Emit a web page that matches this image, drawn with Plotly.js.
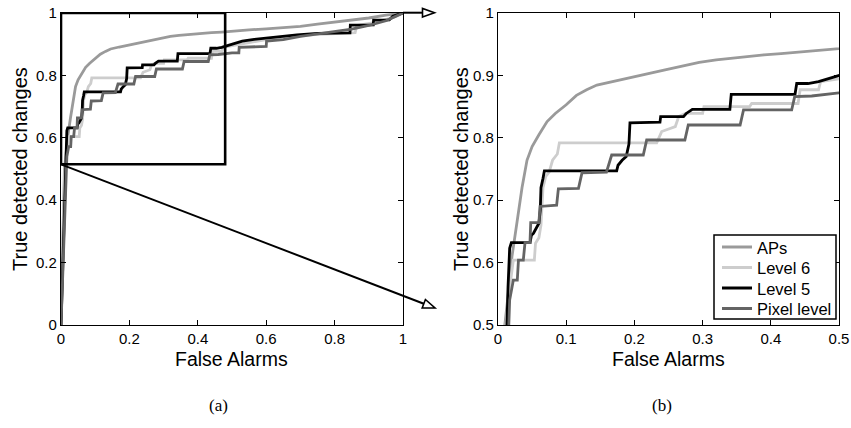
<!DOCTYPE html>
<html>
<head>
<meta charset="utf-8">
<script src="https://cdn.plot.ly/plotly-3.0.1.min.js"></script>
<style>html,body{margin:0;padding:0;background:#fff;}#chart{width:851px;height:428px;}</style>
</head>
<body>
<div id="chart"></div>
<script>
// ---- data (False Alarms vs True detected changes) ----
const seriesNames = ["APs", "Level 6", "Level 5", "Pixel level"];

const apsX = [0, 0.010, 0.015, 0.0205, 0.0279, 0.0352, 0.0425, 0.050, 0.060, 0.072, 0.084, 0.100, 0.115, 0.130, 0.145, 0.170, 0.195, 0.220, 0.245, 0.270, 0.295, 0.320, 0.345, 0.370, 0.390, 0.415, 0.440, 0.470, 0.500, 0.550, 0.600, 0.650, 0.700, 0.750, 0.800, 0.850, 0.900, 0.950, 1.000];
const apsY = [0, 0.500, 0.550, 0.610, 0.665, 0.720, 0.764, 0.786, 0.805, 0.826, 0.839, 0.853, 0.868, 0.877, 0.8846, 0.891, 0.897, 0.903, 0.909, 0.915, 0.921, 0.925, 0.928, 0.931, 0.933, 0.935, 0.937, 0.939, 0.942, 0.946, 0.949, 0.953, 0.957, 0.964, 0.970, 0.976, 0.984, 0.993, 1.000];

const level6X = [0, 0.0117, 0.016, 0.020, 0.0225, 0.0533, 0.055, 0.060, 0.063, 0.066, 0.070, 0.075, 0.080, 0.087, 0.090, 0.2327, 0.235, 0.240, 0.260, 0.265, 0.275, 0.300, 0.302, 0.369, 0.372, 0.440, 0.443, 0.470, 0.473, 0.500, 0.550, 0.600, 0.700, 0.800, 0.860, 0.865, 0.920, 0.970, 1.000];
const level6Y = [0, 0.503, 0.550, 0.585, 0.604, 0.604, 0.631, 0.640, 0.660, 0.720, 0.738, 0.745, 0.764, 0.774, 0.792, 0.792, 0.797, 0.810, 0.818, 0.834, 0.839, 0.839, 0.850, 0.850, 0.855, 0.855, 0.877, 0.877, 0.890, 0.895, 0.905, 0.915, 0.928, 0.935, 0.937, 0.960, 0.970, 0.985, 1.000];

const level5X = [0, 0.0127, 0.0147, 0.0171, 0.0196, 0.047, 0.049, 0.052, 0.056, 0.060, 0.062, 0.063, 0.066, 0.068, 0.174, 0.176, 0.182, 0.188, 0.192, 0.1935, 0.2375, 0.2385, 0.272, 0.276, 0.285, 0.340, 0.342, 0.4355, 0.438, 0.4545, 0.470, 0.480, 0.490, 0.500, 0.510, 0.530, 0.560, 0.600, 0.640, 0.690, 0.750, 0.845, 0.846, 0.913, 0.914, 0.960, 0.970, 1.000];
const level5Y = [0, 0.503, 0.561, 0.623, 0.632, 0.632, 0.644, 0.647, 0.655, 0.663, 0.684, 0.720, 0.735, 0.747, 0.747, 0.756, 0.764, 0.770, 0.790, 0.824, 0.825, 0.834, 0.834, 0.839, 0.8456, 0.8456, 0.8697, 0.8697, 0.887, 0.887, 0.890, 0.893, 0.896, 0.899, 0.903, 0.910, 0.915, 0.920, 0.925, 0.930, 0.935, 0.936, 0.961, 0.962, 0.977, 0.978, 0.990, 1.000];

const pixelX = [0, 0.015, 0.0171, 0.0225, 0.0283, 0.030, 0.0371, 0.0396, 0.0469, 0.048, 0.060, 0.0616, 0.086, 0.0885, 0.118, 0.1232, 0.159, 0.1667, 0.213, 0.218, 0.274, 0.279, 0.355, 0.360, 0.4306, 0.435, 0.460, 0.500, 0.520, 0.521, 0.600, 0.601, 0.650, 0.700, 0.750, 0.800, 0.850, 0.900, 0.950, 0.980, 1.000];
const pixelY = [0, 0.500, 0.540, 0.572, 0.572, 0.604, 0.604, 0.632, 0.632, 0.664, 0.664, 0.690, 0.692, 0.718, 0.719, 0.744, 0.745, 0.7724, 0.7724, 0.7965, 0.7965, 0.8205, 0.8205, 0.8446, 0.8446, 0.866, 0.867, 0.872, 0.872, 0.890, 0.893, 0.910, 0.915, 0.925, 0.932, 0.940, 0.948, 0.960, 0.975, 0.990, 1.000];

const leftXTicks = [0, 0.2, 0.4, 0.6, 0.8, 1];
const leftYTicks = [0, 0.2, 0.4, 0.6, 0.8, 1];
const rightXTicks = [0, 0.1, 0.2, 0.3, 0.4, 0.5];
const rightYTicks = [0.5, 0.6, 0.7, 0.8, 0.9, 1];
const zoomBox = {x0: 0, x1: 0.48, y0: 0.515, y1: 1};

// ---- styling ----
const W = 851, H = 428;
const px = v => v / W;
const py = v => 1 - v / H;
const colors = ["#9a9a9a", "#cdcdcd", "#000000", "#646464"];
const xs = [apsX, level6X, level5X, pixelX];
const ys = [apsY, level6Y, level5Y, pixelY];
const FONT = "Liberation Sans, Arial, sans-serif";
const LW = 2.8;

const traces = [];
for (let i = 0; i < 4; i++) {
  traces.push({x: xs[i], y: ys[i], xaxis: "x", yaxis: "y", type: "scatter", mode: "lines",
    line: {color: colors[i], width: LW}, showlegend: false, name: seriesNames[i], hoverinfo: "skip"});
}
for (let i = 0; i < 4; i++) {
  traces.push({x: xs[i], y: ys[i], xaxis: "x2", yaxis: "y2", type: "scatter", mode: "lines",
    line: {color: colors[i], width: LW}, showlegend: false, name: seriesNames[i], hoverinfo: "skip"});
}

const axisBase = {
  showline: true, linecolor: "#000", linewidth: 1.2, mirror: "ticks",
  ticks: "inside", ticklen: 5, tickwidth: 1, tickcolor: "#000",
  showgrid: false, zeroline: false, tickfont: {family: FONT, size: 15, color: "#000"},
  fixedrange: true
};

const xd1 = [px(61), px(403)], xd2 = [px(498), px(839)], yd = [py(325), py(13)];

// arrow geometry (pixels)
const tip1 = [434.5, 12.7], tip2 = [435, 308];
const start2 = [61, 325 - 0.515 * 312];
function arrowHead(tip, from, len, half) {
  const dx = tip[0] - from[0], dy = tip[1] - from[1];
  const L = Math.hypot(dx, dy), ux = dx / L, uy = dy / L;
  const bx = tip[0] - len * ux, by = tip[1] - len * uy;
  const p1 = [bx - half * uy, by + half * ux], p2 = [bx + half * uy, by - half * ux];
  return {base: [bx, by], path: `M${px(p1[0])},${py(p1[1])} L${px(tip[0])},${py(tip[1])} L${px(p2[0])},${py(p2[1])} Z`};
}
const head1 = arrowHead(tip1, [403, 12.7], 12, 4.3);
const head2 = arrowHead(tip2, start2, 12, 4.5);

const shapes = [
  {type: "rect", xref: "x", yref: "y", x0: zoomBox.x0, x1: zoomBox.x1, y0: zoomBox.y0, y1: zoomBox.y1,
   line: {color: "#000", width: 2.6}, fillcolor: "rgba(0,0,0,0)"},
  {type: "line", xref: "paper", yref: "paper", x0: px(403), y0: py(12.7), x1: px(head1.base[0]), y1: py(head1.base[1]),
   line: {color: "#000", width: 2}},
  {type: "path", xref: "paper", yref: "paper", path: head1.path, line: {color: "#000", width: 1.6}, fillcolor: "#fff"},
  {type: "line", xref: "paper", yref: "paper", x0: px(start2[0]), y0: py(start2[1]), x1: px(head2.base[0]), y1: py(head2.base[1]),
   line: {color: "#000", width: 2}},
  {type: "path", xref: "paper", yref: "paper", path: head2.path, line: {color: "#000", width: 1.6}, fillcolor: "#fff"}
];

const annotations = [
  {text: "True detected changes", xref: "paper", yref: "paper", x: px(20), y: py(169), textangle: -90,
   showarrow: false, xanchor: "center", yanchor: "middle", font: {family: FONT, size: 20, color: "#000"}},
  {text: "True detected changes", xref: "paper", yref: "paper", x: px(461), y: py(169), textangle: -90,
   showarrow: false, xanchor: "center", yanchor: "middle", font: {family: FONT, size: 20, color: "#000"}},
  {text: "False Alarms", xref: "paper", yref: "paper", x: px(232), y: py(358.5),
   showarrow: false, xanchor: "center", yanchor: "middle", font: {family: FONT, size: 19.5, color: "#000"}},
  {text: "False Alarms", xref: "paper", yref: "paper", x: px(668), y: py(358.5),
   showarrow: false, xanchor: "center", yanchor: "middle", font: {family: FONT, size: 19.5, color: "#000"}},
  {text: "(a)", xref: "paper", yref: "paper", x: px(218), y: py(405),
   showarrow: false, xanchor: "center", yanchor: "middle", font: {family: "Liberation Serif, Times New Roman, serif", size: 17, color: "#000"}},
  {text: "(b)", xref: "paper", yref: "paper", x: px(662), y: py(405),
   showarrow: false, xanchor: "center", yanchor: "middle", font: {family: "Liberation Serif, Times New Roman, serif", size: 17, color: "#000"}}
];

// ---- legend box drawn inside the right panel ----
const legBox = {left: 714, right: 836, top: 235, bottom: 319};
const legRowY = [247, 267.5, 288, 308.5];
shapes.push({type: "rect", xref: "paper", yref: "paper", x0: px(legBox.left), x1: px(legBox.right),
  y0: py(legBox.bottom), y1: py(legBox.top), line: {color: "#000", width: 1.5}, fillcolor: "#fff", layer: "above"});
for (let i = 0; i < seriesNames.length; i++) {
  shapes.push({type: "line", xref: "paper", yref: "paper", x0: px(722), x1: px(752), y0: py(legRowY[i]), y1: py(legRowY[i]),
    line: {color: colors[i], width: 3}});
  annotations.push({text: seriesNames[i], xref: "paper", yref: "paper", x: px(755), y: py(legRowY[i] + 0.5),
    showarrow: false, xanchor: "left", yanchor: "middle", font: {family: FONT, size: 16.5, color: "#000"}});
}

const layout = {
  width: W, height: H,
  margin: {l: 0, r: 0, t: 0, b: 0, pad: 0},
  paper_bgcolor: "#fff", plot_bgcolor: "#fff",
  font: {family: FONT, color: "#000"},
  xaxis: Object.assign({}, axisBase, {domain: xd1, range: [0, 1], tickvals: leftXTicks, ticktext: leftXTicks.map(String), anchor: "y"}),
  yaxis: Object.assign({}, axisBase, {domain: yd, range: [0, 1], tickvals: leftYTicks, ticktext: leftYTicks.map(String), anchor: "x"}),
  xaxis2: Object.assign({}, axisBase, {domain: xd2, range: [0, 0.5], tickvals: rightXTicks, ticktext: rightXTicks.map(String), anchor: "y2"}),
  yaxis2: Object.assign({}, axisBase, {domain: yd, range: [0.5, 1], tickvals: rightYTicks, ticktext: rightYTicks.map(String), anchor: "x2"}),
  showlegend: false,
  shapes: shapes,
  annotations: annotations
};

Plotly.newPlot("chart", traces, layout, {staticPlot: true, displayModeBar: false});
</script>
</body>
</html>
